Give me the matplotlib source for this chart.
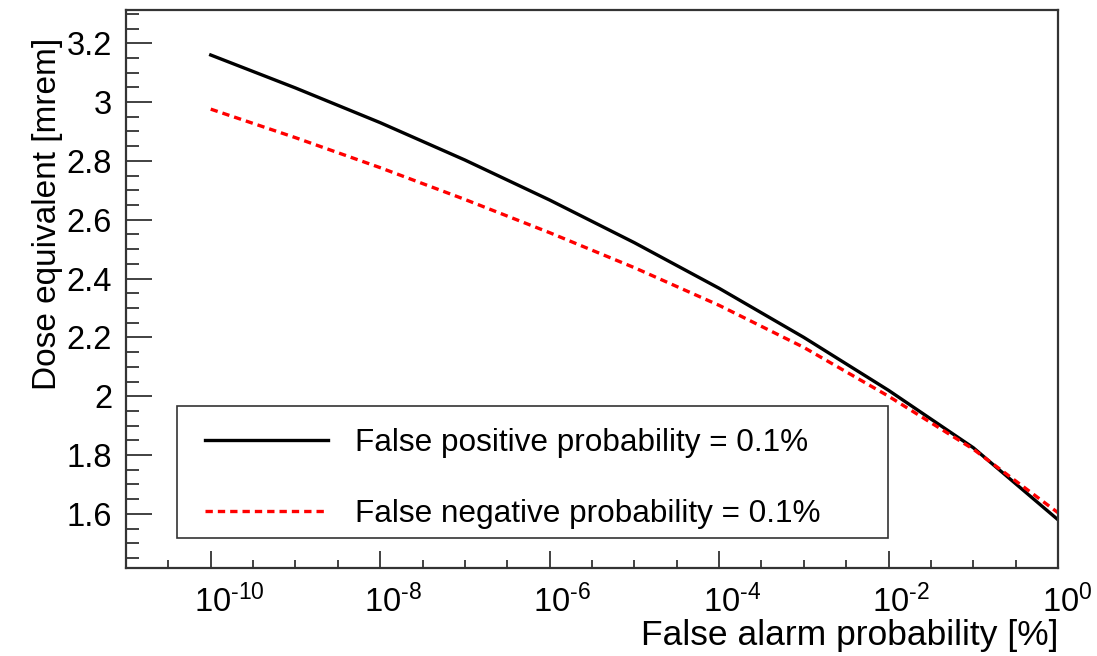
"""Dose equivalent vs false alarm probability (ROOT-style reproduction)."""
import numpy as np
import matplotlib
matplotlib.use('Agg')
import matplotlib.pyplot as plt
import matplotlib.transforms as mtransforms
from matplotlib.patches import Rectangle
from matplotlib.ticker import FixedLocator, NullFormatter, MultipleLocator

plt.rcParams['font.family'] = ['Liberation Sans', 'DejaVu Sans']
plt.rcParams['mathtext.fontset'] = 'custom'
plt.rcParams['mathtext.rm'] = 'Liberation Sans'
plt.rcParams['mathtext.it'] = 'Liberation Sans'

# false alarm probability [%] (decades)
false_alarm = [1e-10, 1e-9, 1e-8, 1e-7, 1e-6, 1e-5, 1e-4, 1e-3, 1e-2, 1e-1, 1.0]
# dose equivalent [mrem]
dose_fp = [3.160, 3.048, 2.930, 2.803, 2.667, 2.522, 2.367, 2.200, 2.020, 1.825, 1.580]
dose_fn = [2.976, 2.879, 2.777, 2.669, 2.556, 2.437, 2.309, 2.166, 2.000, 1.820, 1.604]

major_exp = [-10, -8, -6, -4, -2, 0]
major_labels = [r'$\mathregular{10^{\text{%d}}}$' % e for e in major_exp]

fig = plt.figure(figsize=(10.97, 6.56), dpi=100)
ax = fig.add_axes([126 / 1097, 1 - 568.3 / 656, 932 / 1097, 558.3 / 656])

ax.plot(false_alarm, dose_fp, color='black', lw=2.4,
        label='False positive probability = 0.1%')
ax.plot(false_alarm, dose_fn, color='#ff0000', lw=2.4, linestyle=(0, (2.2, 1.5)),
        label='False negative probability = 0.1%')

ax.set_xscale('log')
ax.set_xlim(1e-11, 1.0)
ax.set_ylim(1.415, 3.313)

# ticks, ROOT style: inward, only left/bottom
ax.xaxis.set_major_locator(FixedLocator([10.0 ** e for e in major_exp]))
ax.xaxis.set_minor_locator(FixedLocator([10.0 ** (k / 2) for k in range(-22, 1)]))
ax.xaxis.set_minor_formatter(NullFormatter())
ax.set_xticklabels(major_labels)
yticks = np.arange(1.6, 3.21, 0.2)
ax.set_yticks(yticks)
ax.set_yticklabels(['%g' % round(v, 1) for v in yticks])
ax.yaxis.set_minor_locator(MultipleLocator(0.05))

ax.tick_params(axis='both', which='both', direction='in', top=False, right=False,
               color='#333333', width=1.3)
ax.tick_params(axis='y', which='major', length=19, labelsize=23.5, pad=10)
ax.tick_params(axis='y', which='minor', length=9.5)
ax.tick_params(axis='x', which='major', length=12.5, labelsize=23.5, pad=12)
ax.tick_params(axis='x', which='minor', length=6)

# ROOT centres the "10" on the tick, not the whole label
offset = mtransforms.ScaledTranslation(-16.5 / 100, 0, fig.dpi_scale_trans)
for lab in ax.get_xticklabels():
    lab.set_horizontalalignment('left')
    lab.set_transform(lab.get_transform() + offset)

for sp in ax.spines.values():
    sp.set_color('#333333')
    sp.set_linewidth(1.6)

ax.text(1.0, -0.121, 'False alarm probability [%]', transform=ax.transAxes,
        ha='right', va='center', fontsize=25.5)
ax.text(-0.0838, 0.95, 'Dose equivalent [mrem]', transform=ax.transAxes,
        rotation=90, ha='center', va='top', fontsize=24)

# legend: frame drawn separately, entries placed inside it
ax.add_patch(Rectangle((0.0547, 0.0543), 0.7629, 0.2364, transform=ax.transAxes,
                       facecolor='white', edgecolor='#333333', lw=1.2, zorder=3))
leg = ax.legend(loc='upper left', bbox_to_anchor=(0.0848, 0.2513),
                fontsize=22.7, handlelength=3.9, handletextpad=0.86,
                labelspacing=1.31, borderpad=0.0, borderaxespad=0.0,
                frameon=False)
leg.set_zorder(4)

fig.savefig('out.png', dpi=100)
